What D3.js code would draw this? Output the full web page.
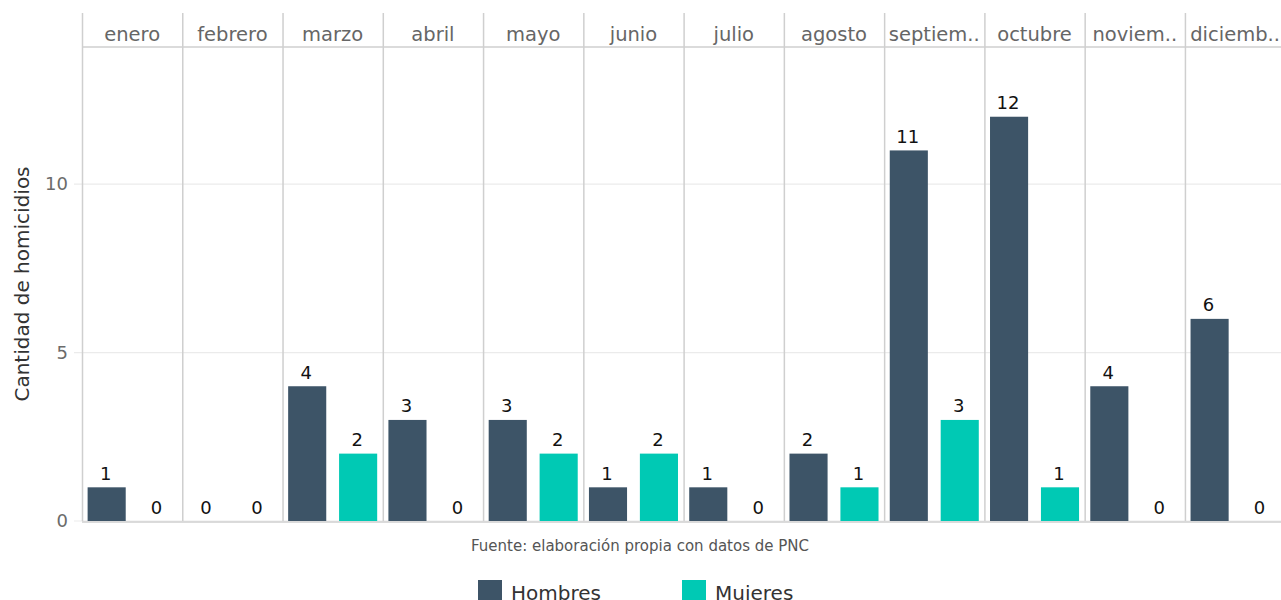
<!DOCTYPE html>
<html>
<head>
<meta charset="utf-8">
<script src="https://cdn.jsdelivr.net/npm/d3@7"></script>
<style>
  body { margin: 0; background: #fff; }
  svg { font-family: "DejaVu Sans", sans-serif; }
</style>
</head>
<body>
<div class="chart"></div>
<script>
// months (strip labels as shown, truncated like the original)
const months = ["enero", "febrero", "marzo", "abril", "mayo", "junio", "julio",
  "agosto", "septiem..", "octubre", "noviem..", "diciemb.."];
const sexes = ["Hombres", "Mujeres"];
const hombres = [1, 0, 4, 3, 3, 1, 1, 2, 11, 12, 4, 6];
const mujeres = [0, 0, 2, 0, 2, 2, 0, 1, 3, 1, 0, 0];
const yTicks = [0, 5, 10];
const colors = ["#3d5467", "#00c9b4"];

const width = 1281, height = 600;
// the last panel runs a little past the right edge, like the original
const plotLeft = 82, plotRight = 1285.2, plotTop = 13, stripH = 34, plotBottom = 521;

const svg = d3.select(".chart").append("svg")
    .attr("width", width)
    .attr("height", height);

const rows = months.map((m, i) => ({ month: m, values: [hombres[i], mujeres[i]] }));

// one panel per month
const xPanel = d3.scaleBand()
    .domain(months)
    .range([plotLeft, plotRight])
    .paddingInner(0);

const y = d3.scaleLinear()
    .domain([0, 14.07])
    .range([plotBottom, plotTop + stripH]);

// inside a panel: two categories
const xIn = d3.scalePoint()
    .domain(sexes)
    .range([0.246, 0.754].map(f => f * xPanel.bandwidth()));
const barW = 0.38 * xPanel.bandwidth();

// horizontal grid lines
svg.append("g")
  .selectAll("line")
  .data(yTicks)
  .join("line")
    .attr("x1", plotLeft - 8)
    .attr("x2", width)
    .attr("y1", d => y(d))
    .attr("y2", d => y(d))
    .attr("stroke", "#ebebeb")
    .attr("stroke-width", 1.2);

// y axis labels
const yAxis = svg.append("g")
    .attr("transform", `translate(${plotLeft},0)`)
    .call(d3.axisLeft(y).tickValues(yTicks).tickSize(0).tickPadding(14));
yAxis.select(".domain").remove();
yAxis.selectAll("text")
    .attr("font-size", 18)
    .attr("fill", "#6b6b6b")
    .attr("font-family", "DejaVu Sans, sans-serif");

svg.append("text")
    .attr("transform", "translate(29,284) rotate(-90)")
    .attr("text-anchor", "middle")
    .attr("font-size", 20)
    .attr("fill", "#333")
    .text("Cantidad de homicidios");

// panels
const panel = svg.append("g")
  .selectAll("g")
  .data(rows)
  .join("g")
    .attr("transform", d => `translate(${xPanel(d.month)},0)`);

panel.selectAll("rect")
  .data(d => d.values.map((v, j) => ({ sex: sexes[j], v })))
  .join("rect")
    .attr("x", d => xIn(d.sex) - barW / 2)
    .attr("y", d => y(d.v))
    .attr("width", barW)
    .attr("height", d => plotBottom - y(d.v))
    .attr("fill", (d, j) => colors[j]);

panel.selectAll("text.val")
  .data(d => d.values.map((v, j) => ({ sex: sexes[j], v })))
  .join("text")
    .attr("class", "val")
    .attr("x", d => xIn(d.sex) - 1)
    .attr("y", d => y(d.v) - 7.5)
    .attr("text-anchor", "middle")
    .attr("font-size", 18)
    .attr("fill", "#111")
    .text(d => d.v);

panel.append("text")
    .attr("x", xPanel.bandwidth() / 2)
    .attr("y", plotTop + 28)
    .attr("text-anchor", "middle")
    .attr("font-size", 19.5)
    .attr("fill", "#666")
    .text(d => d.month);

// panel separators
svg.append("g")
  .selectAll("line")
  .data(months)
  .join("line")
    .attr("x1", d => xPanel(d) + 0.5)
    .attr("x2", d => xPanel(d) + 0.5)
    .attr("y1", plotTop)
    .attr("y2", plotBottom)
    .attr("stroke", "#cfcfcf")
    .attr("stroke-width", 1.5);

svg.append("line")
    .attr("x1", plotLeft).attr("x2", width)
    .attr("y1", plotTop + stripH).attr("y2", plotTop + stripH)
    .attr("stroke", "#cfcfcf").attr("stroke-width", 1.5);

svg.append("line")
    .attr("x1", plotLeft).attr("x2", width)
    .attr("y1", plotBottom + 1).attr("y2", plotBottom + 1)
    .attr("stroke", "#cfcfcf").attr("stroke-width", 1.5);

// caption
svg.append("text")
    .attr("x", 640)
    .attr("y", 551)
    .attr("text-anchor", "middle")
    .attr("font-size", 15)
    .attr("fill", "#555")
    .text("Fuente: elaboración propia con datos de PNC");

// legend (cut by the bottom edge, as in the original)
const legend = svg.append("g")
  .selectAll("g")
  .data(sexes)
  .join("g")
    .attr("transform", (d, i) => `translate(${478 + i * 204},580)`);
legend.append("rect")
    .attr("width", 24)
    .attr("height", 22)
    .attr("fill", (d, i) => colors[i]);
legend.append("text")
    .attr("x", 33)
    .attr("y", 19.5)
    .attr("font-size", 20)
    .attr("fill", "#333")
    .text(d => d);
</script>
</body>
</html>
